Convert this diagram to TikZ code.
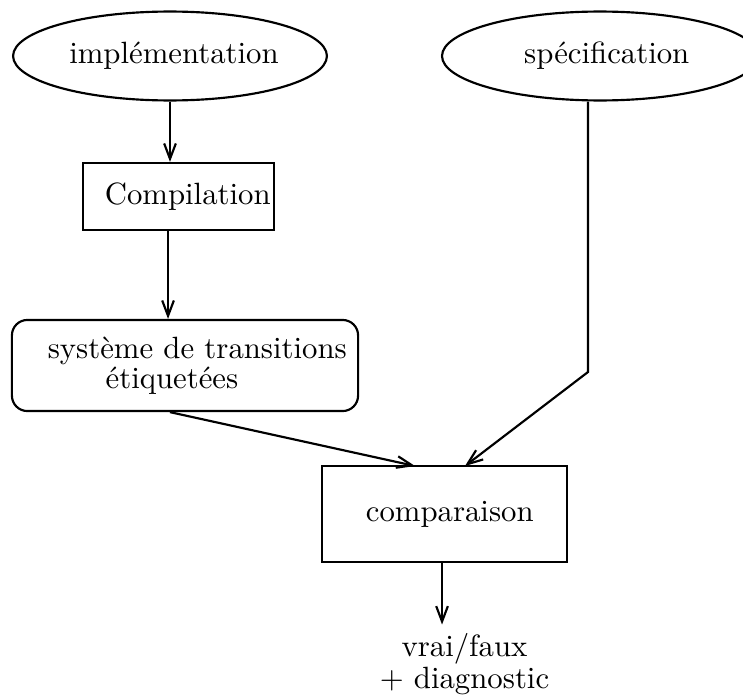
\documentclass[tikz,border=0pt]{standalone}
\usetikzlibrary{shapes.geometric,arrows.meta}
\begin{document}
\begin{tikzpicture}[x=0.325pt,y=-0.325pt,
  line width=0.7pt,
  flow/.style={-{Straight Barb[length=5pt,width=3.8pt,line width=0.7pt]}},
  oval/.style={draw,ellipse,inner sep=0pt,minimum width=102pt,minimum height=28.9pt},
  box/.style={draw,rectangle,inner sep=0pt},
  rbox/.style={draw,rectangle,rounded corners=5pt,inner sep=0pt},
  plain/.style={inner sep=2.5pt,align=center}]
  \clip (0,0) rectangle (743,698);
  % sources
  \node[oval] (impl) at (170,56) {\hspace*{2.6pt}implémentation};
  \node[oval,minimum width=102.7pt] (spec) at (600,56) {\hspace*{4.4pt}spécification};
  % processing chain
  \node[box,minimum width=62.1pt,minimum height=21.8pt] (comp) at (178.5,196.5) {\hspace*{6pt}Compilation};
  \node[rbox,minimum width=112.5pt,minimum height=29.6pt,align=left] (sys) at (185,365.5)
    {\hspace*{8pt}système de transitions\\[-2.3pt]\hspace*{26.8pt}étiquetées};
  \node[box,minimum width=79.6pt,minimum height=31.2pt] (cmp) at (444.5,514) {\hspace*{3.4pt}comparaison};
  \node[plain] (res) at (464.5,664) {vrai/faux\\[-1.6pt]+ diagnostic};
  % connection points
  \coordinate (in1) at (415,466);
  \coordinate (in2) at (465,466);
  \coordinate (bend) at (588,372);
  % connectors
  \draw[flow] (impl.south) -- (impl.south |- comp.north);
  \draw[flow] ([xshift=-3.4pt]comp.south) -- ([xshift=-3.4pt]comp.south |- sys.north);
  \draw[flow] ([xshift=-4.9pt]sys.south) -- (in1);
  \draw[flow] (spec.south -| bend) -- (bend) -- (in2);
  \draw[flow] ([xshift=-0.8pt]cmp.south) -- ([xshift=-0.8pt]cmp.south |- res.north);
\end{tikzpicture}
\end{document}
